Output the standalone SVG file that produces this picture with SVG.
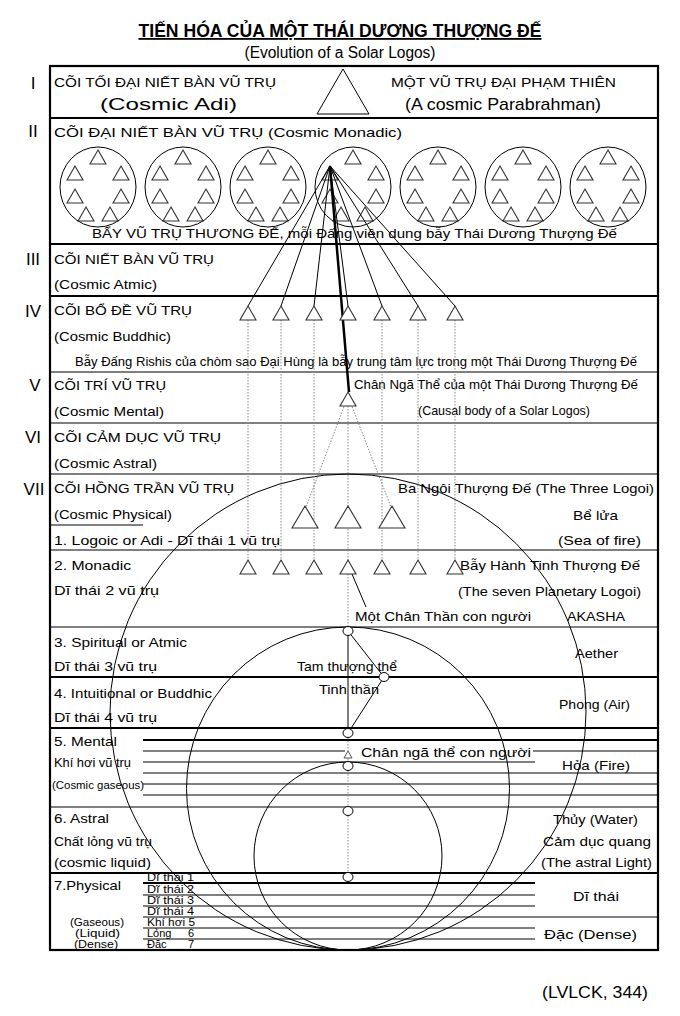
<svg xmlns="http://www.w3.org/2000/svg" xmlns:xlink="http://www.w3.org/1999/xlink" width="680" height="1016" viewBox="0 0 680 1016">
<style>
text{font-family:"Liberation Sans","Noto Sans",sans-serif;fill:#000;}
.cap{font-size:13px;}
.t{font-size:13px;}
.big{font-size:17px;}
.sm{font-size:11px;}
.rn{font-size:17px;}
.thin{stroke:#000;stroke-width:1.2;fill:none;}
.thick{stroke:#000;stroke-width:2.2;fill:none;}
.ln{stroke:#000;stroke-width:1;fill:none;}
.dot{stroke:#888;stroke-width:1;stroke-dasharray:1.5 1.5;fill:none;}
.tri{fill:#fff;stroke:#333;stroke-width:1.1;}
.el{fill:none;stroke:#000;stroke-width:1;}
.sc{fill:#fff;stroke:#000;stroke-width:1;}
</style>
<defs>
<path id="tri16" d="M0,0 L8,14 L-8,14 Z"/>
<path id="tri26" d="M0,0 L13,22 L-13,22 Z"/>
<g id="cluster">
<ellipse class="el" cx="0" cy="0" rx="38" ry="40"/>
<use href="#tri16" class="tri" x="0" y="-37"/>
<use href="#tri16" class="tri" x="-23" y="-21"/>
<use href="#tri16" class="tri" x="23" y="-21"/>
<use href="#tri16" class="tri" x="-23" y="2"/>
<use href="#tri16" class="tri" x="23" y="2"/>
<use href="#tri16" class="tri" x="-12" y="20"/>
<use href="#tri16" class="tri" x="12" y="20"/>
</g>
</defs>
<rect width="680" height="1016" fill="#fff"/>

<g id="title">
<text x="340" y="37" text-anchor="middle" font-size="18" font-weight="bold" text-decoration="underline" textLength="403" lengthAdjust="spacingAndGlyphs">TIẾN HÓA CỦA MỘT THÁI DƯƠNG THƯỢNG ĐẾ</text>
<text x="340" y="58" text-anchor="middle" font-size="16" textLength="191" lengthAdjust="spacingAndGlyphs">(Evolution of a Solar Logos)</text>
</g>

<g id="frame">
<rect x="50" y="66" width="608" height="884" class="thick"/>
<line x1="50" y1="118" x2="658" y2="118" class="thick"/>
<line x1="50" y1="244" x2="658" y2="244" class="thick"/>
<line x1="50" y1="296" x2="658" y2="296" class="thick"/>
<line x1="50" y1="372" x2="658" y2="372" class="thin"/>
<line x1="50" y1="423" x2="658" y2="423" class="thin"/>
<line x1="50" y1="474" x2="658" y2="474" class="thin"/>
<line x1="50" y1="550" x2="658" y2="550" class="thin"/>
<line x1="50" y1="627" x2="658" y2="627" class="thin"/>
<line x1="50" y1="677" x2="658" y2="677" class="thick"/>
<line x1="50" y1="728" x2="658" y2="728" class="thick"/>
<line x1="50" y1="807" x2="658" y2="807" class="thin"/>
<line x1="50" y1="873" x2="658" y2="873" class="thick"/>
<line x1="50" y1="525" x2="143" y2="525" class="ln"/>
</g>

<g id="numerals" class="rn">
<text x="33" y="89" text-anchor="middle" class="rn">I</text>
<text x="33" y="137" text-anchor="middle" class="rn">II</text>
<text x="33" y="265" text-anchor="middle" class="rn">III</text>
<text x="33" y="317" text-anchor="middle" class="rn">IV</text>
<text x="35" y="391" text-anchor="middle" class="rn">V</text>
<text x="33" y="443" text-anchor="middle" class="rn">VI</text>
<text x="34" y="495" text-anchor="middle" class="rn">VII</text>
</g>

<g id="plane-1">
<text x="54" y="87" class="cap" textLength="222" lengthAdjust="spacingAndGlyphs">CÕI TỐI ĐẠI NIẾT BÀN VŨ TRỤ</text>
<text x="100" y="110" class="big" textLength="137" lengthAdjust="spacingAndGlyphs">(Cosmic Adi)</text>
<path d="M343,69 L369,114 L317,114 Z" fill="none" stroke="#000" stroke-width="1"/>
<text x="391" y="87" class="cap" textLength="225" lengthAdjust="spacingAndGlyphs">MỘT VŨ TRỤ ĐẠI PHẠM THIÊN</text>
<text x="405" y="110" class="big" textLength="196" lengthAdjust="spacingAndGlyphs">(A cosmic Parabrahman)</text>
</g>

<g id="plane-2">
<text x="54" y="137" class="t" textLength="348" lengthAdjust="spacingAndGlyphs">CÕI ĐẠI NIẾT BÀN VŨ TRỤ (Cosmic Monadic)</text>
<use href="#cluster" x="98" y="187"/>
<use href="#cluster" x="183" y="187"/>
<use href="#cluster" x="268" y="187"/>
<use href="#cluster" x="353" y="187"/>
<use href="#cluster" x="438" y="187"/>
<use href="#cluster" x="523" y="187"/>
<use href="#cluster" x="608" y="187"/>
<text x="92" y="238" class="t" textLength="525" lengthAdjust="spacingAndGlyphs">BẨY VŨ TRỤ THƯƠNG ĐẾ, mỗi Đấng viên dung bẫy Thái Dương Thượng Đế</text>
</g>

<g id="plane-3">
<text x="54" y="264" class="cap" textLength="160" lengthAdjust="spacingAndGlyphs">CÕI NIẾT BÀN VŨ TRỤ</text>
<text x="54" y="289" class="t" textLength="103" lengthAdjust="spacingAndGlyphs">(Cosmic Atmic)</text>
</g>

<g id="plane-4">
<text x="54" y="315" class="cap" textLength="138" lengthAdjust="spacingAndGlyphs">CÕI BỔ ĐỀ VŨ TRỤ</text>
<text x="54" y="341" class="t" textLength="117" lengthAdjust="spacingAndGlyphs">(Cosmic Buddhic)</text>
<text x="75" y="366" class="t" textLength="562" lengthAdjust="spacingAndGlyphs">Bẫy Đấng Rishis của chòm sao Đại Hùng là bẫy trung tâm lực trong một Thái Dương Thượng Đế</text>
</g>

<g id="plane-5">
<text x="54" y="390" class="cap" textLength="112" lengthAdjust="spacingAndGlyphs">CÕI TRÍ VŨ TRỤ</text>
<text x="54" y="416" class="t" textLength="110" lengthAdjust="spacingAndGlyphs">(Cosmic Mental)</text>
<text x="354" y="389" class="t" textLength="284" lengthAdjust="spacingAndGlyphs">Chân Ngã Thể của một Thái Dương Thượng Đế</text>
<text x="418" y="415" class="t" textLength="172" lengthAdjust="spacingAndGlyphs">(Causal body of a Solar Logos)</text>
</g>

<g id="plane-6">
<text x="54" y="442" class="cap" textLength="167" lengthAdjust="spacingAndGlyphs">CÕI CẢM DỤC VŨ TRỤ</text>
<text x="54" y="468" class="t" textLength="103" lengthAdjust="spacingAndGlyphs">(Cosmic Astral)</text>
</g>

<g id="plane-7">
<text x="54" y="493" class="cap" textLength="180" lengthAdjust="spacingAndGlyphs">CÕI HỒNG TRẦN VŨ TRỤ</text>
<text x="54" y="519" class="t" textLength="118" lengthAdjust="spacingAndGlyphs">(Cosmic Physical)</text>
<text x="54" y="545" class="t" textLength="226" lengthAdjust="spacingAndGlyphs">1. Logoic or Adi - Dĩ thái 1 vũ trụ</text>
<text x="398" y="493" class="t" textLength="256" lengthAdjust="spacingAndGlyphs">Ba Ngôi Thượng Đế (The Three Logoi)</text>
<text x="573" y="520" class="t" textLength="45" lengthAdjust="spacingAndGlyphs">Bể lửa</text>
<text x="558" y="545" class="t" textLength="83" lengthAdjust="spacingAndGlyphs">(Sea of fire)</text>
</g>

<g id="sub-2">
<text x="54" y="570" class="t" textLength="77" lengthAdjust="spacingAndGlyphs">2. Monadic</text>
<text x="54" y="595" class="t" textLength="105" lengthAdjust="spacingAndGlyphs">Dĩ thái 2 vũ trụ</text>
<text x="460" y="570" class="t" textLength="180" lengthAdjust="spacingAndGlyphs">Bẫy Hành Tinh Thượng Đế</text>
<text x="458" y="596" class="t" textLength="183" lengthAdjust="spacingAndGlyphs">(The seven Planetary Logoi)</text>
<text x="355" y="621" class="t" textLength="176" lengthAdjust="spacingAndGlyphs">Một Chân Thần con người</text>
<text x="567" y="621" class="t" textLength="58" lengthAdjust="spacingAndGlyphs">AKASHA</text>
</g>

<g id="sub-3">
<text x="54" y="647" class="t" textLength="133" lengthAdjust="spacingAndGlyphs">3. Spiritual or Atmic</text>
<text x="54" y="671" class="t" textLength="103" lengthAdjust="spacingAndGlyphs">Dĩ thái 3 vũ trụ</text>
<text x="297" y="671" class="t" textLength="100" lengthAdjust="spacingAndGlyphs">Tam thượng thể</text>
<text x="575" y="658" class="t" textLength="43" lengthAdjust="spacingAndGlyphs">Aether</text>
</g>

<g id="sub-4">
<text x="54" y="698" class="t" textLength="158" lengthAdjust="spacingAndGlyphs">4. Intuitional or Buddhic</text>
<text x="54" y="722" class="t" textLength="103" lengthAdjust="spacingAndGlyphs">Dĩ thái 4 vũ trụ</text>
<text x="319" y="694" class="t" textLength="60" lengthAdjust="spacingAndGlyphs">Tinh thần</text>
<text x="559" y="709" class="t" textLength="71" lengthAdjust="spacingAndGlyphs">Phong (Air)</text>
</g>

<g id="sub-5">
<line x1="143" y1="740" x2="658" y2="740" class="thick"/>
<line x1="143" y1="751" x2="345" y2="751" class="ln"/>
<line x1="533" y1="751" x2="658" y2="751" class="ln"/>
<line x1="143" y1="762" x2="535" y2="762" class="ln"/>
<line x1="143" y1="773" x2="658" y2="773" class="ln"/>
<line x1="143" y1="784" x2="658" y2="784" class="ln"/>
<line x1="143" y1="795" x2="658" y2="795" class="ln"/>
<text x="54" y="746" class="t" textLength="63" lengthAdjust="spacingAndGlyphs">5. Mental</text>
<text x="54" y="767" class="t" textLength="77" lengthAdjust="spacingAndGlyphs">Khí hơi vũ trụ</text>
<text x="52" y="789" class="sm" textLength="92" lengthAdjust="spacingAndGlyphs">(Cosmic gaseous)</text>
<text x="361" y="757" class="t" textLength="170" lengthAdjust="spacingAndGlyphs">Chân ngã thể con người</text>
<text x="562" y="770" class="t" textLength="68" lengthAdjust="spacingAndGlyphs">Hỏa (Fire)</text>
</g>

<g id="sub-6">
<text x="54" y="823" class="t" textLength="55" lengthAdjust="spacingAndGlyphs">6. Astral</text>
<text x="54" y="846" class="t" textLength="98" lengthAdjust="spacingAndGlyphs">Chất lỏng vũ trụ</text>
<text x="54" y="867" class="t" textLength="97" lengthAdjust="spacingAndGlyphs">(cosmic liquid)</text>
<text x="553" y="824" class="t" textLength="85" lengthAdjust="spacingAndGlyphs">Thủy (Water)</text>
<text x="543" y="846" class="t" textLength="108" lengthAdjust="spacingAndGlyphs">Cảm dục quang</text>
<text x="541" y="867" class="t" textLength="111" lengthAdjust="spacingAndGlyphs">(The astral Light)</text>
</g>

<g id="sub-7">
<line x1="143" y1="883" x2="535" y2="883" class="thick"/>
<line x1="143" y1="895" x2="535" y2="895" class="ln"/>
<line x1="143" y1="906" x2="535" y2="906" class="ln"/>
<line x1="143" y1="917" x2="658" y2="917" class="ln"/>
<line x1="143" y1="928" x2="535" y2="928" class="ln"/>
<line x1="143" y1="939" x2="535" y2="939" class="ln"/>
<text x="54" y="890" class="t" font-size="14" textLength="67" lengthAdjust="spacingAndGlyphs">7.Physical</text>
<text x="70" y="926" class="sm" textLength="54" lengthAdjust="spacingAndGlyphs">(Gaseous)</text>
<text x="75" y="937" class="sm" textLength="45" lengthAdjust="spacingAndGlyphs">(Liquid)</text>
<text x="74" y="948" class="sm" textLength="44" lengthAdjust="spacingAndGlyphs">(Dense)</text>
<text x="147" y="881" class="sm" textLength="47" lengthAdjust="spacingAndGlyphs">Dĩ thái 1</text>
<text x="147" y="893" class="sm" textLength="47" lengthAdjust="spacingAndGlyphs">Dĩ thái 2</text>
<text x="147" y="904" class="sm" textLength="47" lengthAdjust="spacingAndGlyphs">Dĩ thái 3</text>
<text x="147" y="915" class="sm" textLength="47" lengthAdjust="spacingAndGlyphs">Dĩ thái 4</text>
<text x="147" y="926" class="sm" textLength="48" lengthAdjust="spacingAndGlyphs">Khí hơi 5</text>
<text x="147" y="937" class="sm">Lỏng<tspan x="188">6</tspan></text>
<text x="147" y="948" class="sm">Đặc<tspan x="188">7</tspan></text>
<text x="573" y="901" class="t" textLength="46" lengthAdjust="spacingAndGlyphs">Dĩ thái</text>
<text x="544" y="939" class="t" textLength="93" lengthAdjust="spacingAndGlyphs">Đặc (Dense)</text>
</g>

<g id="circles">
<circle cx="348" cy="712" r="238" class="el"/>
<circle cx="348" cy="788.5" r="161.5" class="el"/>
<circle cx="348" cy="856" r="94" class="el"/>
</g>

<g id="connectors">
<line x1="330" y1="166" x2="248" y2="306" class="ln"/>
<line x1="330" y1="166" x2="281" y2="306" class="ln"/>
<line x1="330" y1="166" x2="314" y2="306" class="ln"/>
<line x1="330" y1="166" x2="348" y2="306" class="ln"/>
<line x1="330" y1="166" x2="382" y2="306" class="ln"/>
<line x1="330" y1="166" x2="418" y2="306" class="ln"/>
<line x1="330" y1="166" x2="455" y2="306" class="ln"/>
<line x1="330" y1="166" x2="349" y2="392" stroke="#000" stroke-width="2.5"/>
<line x1="248" y1="320" x2="248" y2="560" class="dot"/>
<line x1="281" y1="320" x2="281" y2="560" class="dot"/>
<line x1="314" y1="320" x2="314" y2="560" class="dot"/>
<line x1="382" y1="320" x2="382" y2="560" class="dot"/>
<line x1="418" y1="320" x2="418" y2="560" class="dot"/>
<line x1="455" y1="320" x2="455" y2="560" class="dot"/>
<line x1="348" y1="406" x2="348" y2="560" class="dot"/>
<line x1="345" y1="404" x2="306" y2="507" class="dot"/>
<line x1="351" y1="404" x2="391" y2="507" class="dot"/>
<line x1="352" y1="574" x2="366" y2="607" class="ln"/>
<line x1="348" y1="574" x2="348" y2="626" class="dot"/>
<line x1="348" y1="635" x2="348" y2="729" class="ln"/>
<polyline points="348,631 384,677 348,733" class="ln"/>
<line x1="348" y1="738" x2="348" y2="876" class="dot"/>
</g>

<g id="nodes-4">
<use href="#tri16" class="tri" x="248" y="306"/>
<use href="#tri16" class="tri" x="281" y="306"/>
<use href="#tri16" class="tri" x="314" y="306"/>
<use href="#tri16" class="tri" x="348" y="306"/>
<use href="#tri16" class="tri" x="382" y="306"/>
<use href="#tri16" class="tri" x="418" y="306"/>
<use href="#tri16" class="tri" x="455" y="306"/>
</g>
<g id="node-causal">
<use href="#tri16" class="tri" x="348" y="392"/>
</g>
<g id="nodes-logoi">
<use href="#tri26" class="tri" x="305" y="506"/>
<use href="#tri26" class="tri" x="348" y="506"/>
<use href="#tri26" class="tri" x="392" y="506"/>
</g>
<g id="nodes-planetary">
<use href="#tri16" class="tri" x="248" y="560"/>
<use href="#tri16" class="tri" x="281" y="560"/>
<use href="#tri16" class="tri" x="314" y="560"/>
<use href="#tri16" class="tri" x="348" y="560"/>
<use href="#tri16" class="tri" x="382" y="560"/>
<use href="#tri16" class="tri" x="418" y="560"/>
<use href="#tri16" class="tri" x="455" y="560"/>
</g>
<g id="nodes-human">
<ellipse class="sc" cx="348" cy="631" rx="5" ry="4.5"/>
<ellipse class="sc" cx="384" cy="677" rx="5" ry="4.5"/>
<ellipse class="sc" cx="348" cy="733" rx="5" ry="4.5"/>
<path d="M348,751 L352,758 L344,758 Z" fill="#fff" stroke="#555" stroke-width="1"/>
<ellipse class="sc" cx="348" cy="766" rx="5" ry="4.5"/>
<ellipse class="sc" cx="348" cy="811" rx="5" ry="4.5"/>
<ellipse class="sc" cx="348" cy="877" rx="5" ry="4.5"/>
</g>

<g id="source">
<text x="542" y="998" class="big" textLength="106" lengthAdjust="spacingAndGlyphs">(LVLCK, 344)</text>
</g>
</svg>
